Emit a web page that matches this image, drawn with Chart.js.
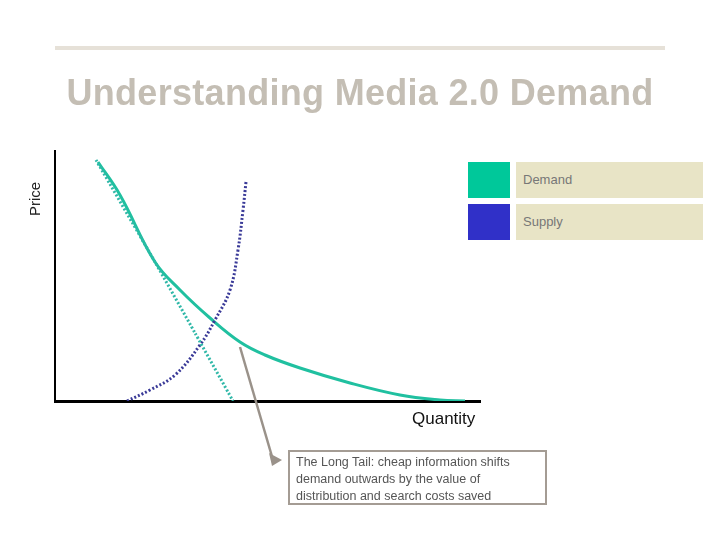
<!DOCTYPE html>
<html><head><meta charset="utf-8">
<script src="https://cdn.jsdelivr.net/npm/chart.js@4"></script>
<style>
body{margin:0;width:720px;height:540px;position:relative;background:#fff;font-family:"Liberation Sans",Arial,sans-serif;overflow:hidden}
#c{position:absolute;left:0;top:0}
.abs{position:absolute}
</style></head><body>
<canvas id="c" width="720" height="540"></canvas>
<div class="abs" style="left:55px;top:46px;width:610px;height:4px;background:#e6e1d8"></div>
<div class="abs" style="left:0;width:720px;top:72px;text-align:center;font-weight:bold;font-size:36px;color:#c4beb4;letter-spacing:0.3px">Understanding Media 2.0 Demand</div>
<div class="abs" style="left:26px;font-size:15px;color:#222;transform:rotate(-90deg);transform-origin:left top;top:216px">Price</div>
<div class="abs" style="left:412px;top:409px;font-size:17px;color:#111">Quantity</div>
<div class="abs" style="left:468px;top:162px;width:42px;height:36px;background:#00c89a"></div>
<div class="abs" style="left:516px;top:162px;width:187px;height:36px;background:#e8e4c6;color:#777;font-size:13px;line-height:36px;padding-left:7px;box-sizing:border-box">Demand</div>
<div class="abs" style="left:468px;top:204px;width:42px;height:36px;background:#3030c8"></div>
<div class="abs" style="left:516px;top:204px;width:187px;height:36px;background:#e8e4c6;color:#777;font-size:13px;line-height:36px;padding-left:7px;box-sizing:border-box">Supply</div>
<div class="abs" style="left:288px;top:450px;width:259px;height:55px;border:2px solid #a49c94;box-sizing:border-box;padding:2px 6px;font-size:12.5px;line-height:17px;color:#555">The Long Tail: cheap information shifts demand outwards by the value of distribution and search costs saved</div>
<script>
const demandCurve=[{x:43,y:239},{x:65,y:206},{x:100,y:139},{x:125,y:111},{x:155,y:83},{x:185,y:59},{x:210,y:46},{x:245,y:33},{x:295,y:18},{x:345,y:6},{x:385,y:1},{x:410,y:0}];
const demandLinear=[{x:41,y:241},{x:100,y:139},{x:140,y:68},{x:178,y:0}];
const supply=[{x:72,y:0},{x:95,y:11},{x:120,y:26},{x:145,y:56},{x:160,y:81},{x:175,y:111},{x:183,y:151},{x:188,y:191},{x:191,y:219}];
const arrow={
 id:'arrow',afterDraw(ch){const c=ch.ctx;c.save();c.strokeStyle='#9a928a';c.fillStyle='#9a928a';c.lineWidth=2.5;
 const x1=240,y1=347,x2=273,y2=460;c.beginPath();c.moveTo(x1,y1);c.lineTo(x2,y2);c.stroke();
 c.beginPath();c.moveTo(x2+9,y2);c.lineTo(x2-4,y2-7);c.lineTo(x2-1,y2+6);c.closePath();c.fill();c.restore();}
};
new Chart(document.getElementById('c'),{type:'scatter',
 data:{datasets:[
  {data:demandLinear,showLine:true,borderColor:'#30b8a8',borderWidth:3,borderDash:[2,2],pointRadius:0,tension:0.2},
  {data:supply,showLine:true,borderColor:'#3a3a98',borderWidth:3,borderDash:[2,2],pointRadius:0,tension:0.4},
  {data:demandCurve,showLine:true,borderColor:'#20c0a0',borderWidth:3,pointRadius:0,tension:0.4}
 ]},
 options:{responsive:false,animation:false,events:[],
  layout:{padding:{left:47,right:240,top:151,bottom:131}},
  plugins:{legend:{display:false},tooltip:{enabled:false}},
  scales:{
   x:{type:'linear',min:0,max:425,grid:{display:false},ticks:{display:false},border:{color:'#000',width:3}},
   y:{type:'linear',min:0,max:250,grid:{display:false},ticks:{display:false},border:{color:'#000',width:2}}
  }},
 plugins:[arrow]});
</script>
</body></html>
